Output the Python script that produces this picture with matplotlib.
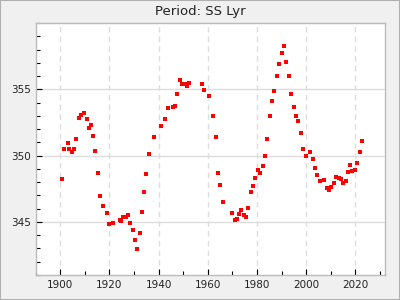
import matplotlib
matplotlib.use("Agg")
import matplotlib.pyplot as plt
from matplotlib.ticker import MultipleLocator, FixedLocator
from matplotlib.patches import Rectangle

years = [1900.9, 1901.7, 1903.0, 1903.6, 1904.6, 1905.7, 1906.6, 1907.8, 1908.6, 1909.5,
         1910.7, 1911.5, 1912.7, 1913.5, 1914.3, 1915.5, 1916.3, 1917.2, 1919.2, 1920.0,
         1921.4, 1924.1, 1924.9, 1925.7, 1926.9, 1927.7, 1928.5, 1929.7, 1930.5, 1931.4,
         1932.6, 1933.4, 1934.2, 1935.0, 1936.2, 1938.3, 1941.1, 1942.7, 1943.9, 1946.0,
         1946.8, 1947.6, 1948.8, 1949.6, 1950.8, 1951.6, 1952.5, 1957.7, 1958.5, 1960.6,
         1962.2, 1963.4, 1964.2, 1965.0, 1966.2, 1969.9, 1971.1, 1971.9, 1972.7, 1973.5,
         1974.8, 1975.6, 1976.4, 1977.6, 1978.4, 1979.2, 1980.4, 1981.3, 1982.5, 1983.3,
         1984.1, 1985.3, 1986.1, 1986.9, 1988.2, 1989.0, 1990.2, 1991.0, 1991.8, 1993.0,
         1993.8, 1995.0, 1995.9, 1996.7, 1997.9, 1998.7, 1999.9, 2001.5, 2002.7, 2003.6,
         2004.4, 2005.6, 2007.2, 2008.4, 2009.2, 2010.1, 2011.3, 2012.1, 2013.3, 2014.1,
         2014.9, 2016.1, 2016.9, 2017.8, 2018.6, 2019.8, 2020.6, 2021.8, 2022.6]
periods = [348.25, 350.5, 350.95, 350.5, 350.3, 350.5, 351.25, 352.83, 353.08, 353.2,
           352.75, 352.08, 352.3, 351.48, 350.35, 348.7, 346.97, 346.2, 345.7, 344.86,
           344.94, 345.17, 345.1, 345.4, 345.4, 345.54, 344.94, 344.41, 343.66, 342.98,
           344.19, 345.77, 347.27, 348.62, 350.13, 351.4, 352.23, 352.76, 353.59, 353.66,
           353.74, 354.64, 355.69, 355.39, 355.39, 355.24, 355.47, 355.39, 354.94, 354.49,
           352.98, 351.4, 348.7, 347.8, 346.52, 345.7, 345.17, 345.24, 345.62, 345.92,
           345.54, 345.39, 346.07, 347.27, 347.72, 348.32, 348.92, 348.7, 349.23, 349.98,
           351.26, 352.98, 354.1, 354.86, 355.99, 356.9, 357.72, 358.25, 357.05, 355.99,
           354.64, 353.66, 352.98, 352.6, 351.7, 350.5, 349.98, 350.28, 349.75, 349.08,
           348.55, 348.1, 348.17, 347.57, 347.42, 347.65, 347.95, 348.4, 348.32, 348.25,
           347.95, 348.1, 348.77, 349.3, 348.85, 348.92, 349.45, 350.28, 351.1]
y_major = [345, 350, 355]
x_major = [1900, 1920, 1940, 1960, 1980, 2000, 2020]
title = "Period: SS Lyr"

fig = plt.figure(figsize=(4, 3), dpi=100, facecolor="#f0f0f0")
fig.patches.append(Rectangle((0, 0), 1, 1, transform=fig.transFigure, fill=False,
                             edgecolor="#b0b0b0", linewidth=1.5))
ax = fig.add_axes([0.089, 0.0833, 0.8735, 0.8397])
ax.set_facecolor("white")
ax.plot(years, periods, linestyle="none", marker="s", markersize=3.4,
        color="#ff0000", markeredgewidth=0)
ax.set_xlim(1890, 2032)
ax.set_ylim(341, 360)
ax.xaxis.set_major_locator(FixedLocator(x_major))
ax.xaxis.set_minor_locator(MultipleLocator(10))
ax.yaxis.set_major_locator(FixedLocator(y_major))
ax.yaxis.set_minor_locator(MultipleLocator(1))
ax.grid(True, axis="x", which="major", color="#dddddd", linestyle=(0, (4, 3)), linewidth=1)
ax.grid(True, axis="y", which="major", color="#dddddd", linestyle="-", linewidth=1)
ax.set_axisbelow(True)
ax.tick_params(which="both", direction="in", colors="black", labelcolor="#222222",
               labelsize=7.5, width=0.8)
ax.tick_params(which="major", length=4)
ax.tick_params(which="minor", length=3)
for s in ax.spines.values():
    s.set_color("#bbbbbb")
    s.set_linewidth(1)
fig.text(0.5, 0.963, title, ha="center", va="center", fontsize=9.5, color="#222222")
fig.savefig("out.png", dpi=100, facecolor=fig.get_facecolor())
